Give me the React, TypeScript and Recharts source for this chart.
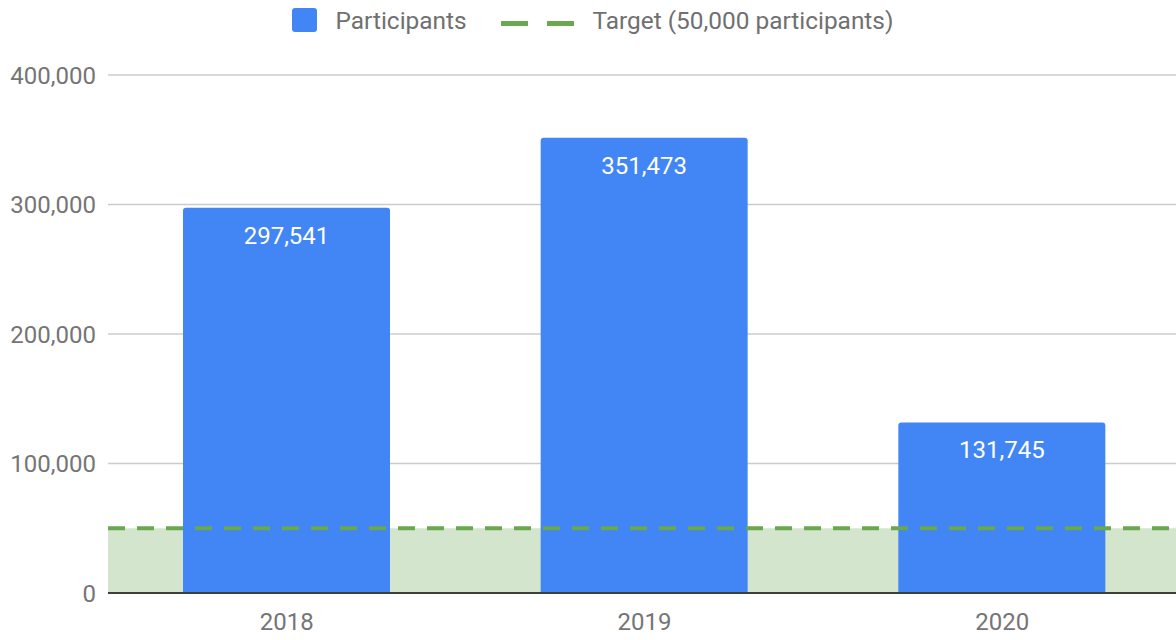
import React from "react";
import {
  ComposedChart,
  Bar,
  XAxis,
  YAxis,
  CartesianGrid,
  ReferenceLine,
  ReferenceArea,
  Legend,
  LabelList,
} from "recharts";

const years = ["2018", "2019", "2020"];
const participants = [297541, 351473, 131745];
const targetValue = 50000;
const yTicks = [0, 100000, 200000, 300000, 400000];
const seriesName = "Participants";
const targetName = "Target (50,000 participants)";

const data = years.map((y, i) => ({ year: y, participants: participants[i] }));

const fmt = (v: number) => v.toLocaleString("en-US");

const FONT = "Roboto, sans-serif";

const LegendContent = () => (
  <div
    style={{
      height: 40,
      display: "flex",
      justifyContent: "center",
      alignItems: "center",
      fontFamily: FONT,
      fontSize: 24.4,
      color: "#707070",
      paddingLeft: 9,
      boxSizing: "border-box",
    }}
  >
    <div style={{ display: "flex", alignItems: "center", marginRight: 34 }}>
      <div style={{ width: 25, height: 24, borderRadius: 3, background: "#4285f4", marginRight: 19 }} />
      <span>{seriesName}</span>
    </div>
    <div style={{ display: "flex", alignItems: "center" }}>
      <div style={{ width: 27, height: 5, background: "#6aa84f", marginRight: 19, marginTop: 6 }} />
      <div style={{ width: 27, height: 5, background: "#6aa84f", marginRight: 19, marginTop: 6 }} />
      <span>{targetName}</span>
    </div>
  </div>
);

export default function App() {
  return (
    <div style={{ position: "absolute", left: 0, top: 0, width: 1176, height: 640, overflow: "hidden", background: "#fff" }}>
      <ComposedChart
        width={1181}
        height={640}
        data={data}
        margin={{ top: 35, right: 0, bottom: 7, left: 0 }}
      >
        <CartesianGrid vertical={false} stroke="#cccccc" strokeWidth={1.5} />
        <ReferenceArea y1={0} y2={targetValue} fill="#d3e5cc" fillOpacity={1} stroke="none" ifOverflow="extendDomain" />
        <XAxis
          dataKey="year"
          height={40}
          tickSize={0}
          tickMargin={20}
          axisLine={{ stroke: "#3a4236", strokeWidth: 2 }}
          tick={{ fill: "#757575", fontSize: 24, fontFamily: FONT }}
        />
        <YAxis
          width={108}
          domain={[0, 400000]}
          ticks={yTicks}
          tickFormatter={fmt}
          axisLine={false}
          tickLine={false}
          tickSize={0}
          tickMargin={12}
          tick={{ fill: "#757575", fontSize: 24, fontFamily: FONT }}
        />
        <Legend verticalAlign="top" height={40} wrapperStyle={{ top: 0, left: 0, width: 1176 }} content={<LegendContent />} />
        <Bar dataKey="participants" name={seriesName} fill="#4285f4" barSize={207} radius={[3, 3, 0, 0]} isAnimationActive={false}>
          <LabelList
            dataKey="participants"
            position="insideTop"
            offset={19}
            formatter={(v: number) => fmt(v)}
            style={{ fill: "#ffffff", fontSize: 24, fontFamily: FONT }}
          />
        </Bar>
        <ReferenceLine y={targetValue} stroke="#6aa84f" strokeWidth={4} strokeDasharray="17 12" ifOverflow="extendDomain" />
      </ComposedChart>
    </div>
  );
}
